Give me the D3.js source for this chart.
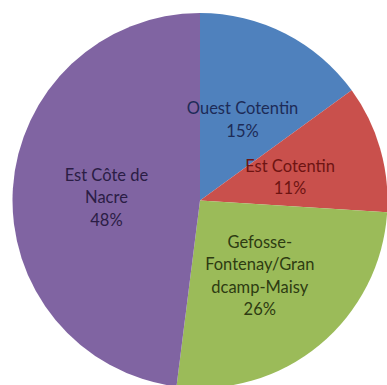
<!DOCTYPE html>
<html>
<head>
<meta charset="utf-8">
<script src="https://cdn.jsdelivr.net/npm/d3@7"></script>
<style>
  html, body { margin: 0; padding: 0; background: #fff; overflow: hidden; }
  svg { display: block; }
</style>
</head>
<body>
<svg id="chart" width="387" height="385"></svg>
<script>
// Share of each sector (%)
const categories = ["Ouest Cotentin", "Est Cotentin", "Gefosse-Fontenay/Grandcamp-Maisy", "Est Côte de Nacre"];
const values = [15, 11, 26, 48];
// Wrapped label lines as drawn inside each slice
const labelLines = [
  ["Ouest Cotentin"],
  ["Est Cotentin"],
  ["Gefosse-", "Fontenay/Gran", "dcamp-Maisy"],
  ["Est Côte de", "Nacre"]
];
const fills = ["#4F81BD", "#C9504C", "#9BBB59", "#8064A2"];
const textColors = ["#1d2b57", "#6e1412", "#2e3b12", "#2b1d45"];

const svg = d3.select("#chart");
const cx = 200, cy = 200.5, radius = 187.5;

const data = categories.map((c, i) => ({ name: c, value: values[i], lines: labelLines[i], i }));

const pie = d3.pie().value(d => d.value).sort(null);
const arc = d3.arc().innerRadius(0).outerRadius(radius);

const g = svg.append("g").attr("transform", `translate(${cx},${cy})`);
const arcs = pie(data);

g.selectAll("path.slice")
  .data(arcs)
  .join("path")
  .attr("class", "slice")
  .attr("d", arc)
  .attr("fill", d => fills[d.data.i]);

const lineH = 22.5;
const labels = g.selectAll("text.lbl")
  .data(arcs)
  .join("text")
  .attr("class", "lbl")
  .attr("text-anchor", "middle")
  .attr("font-family", "Lato, 'Open Sans', sans-serif")
  .attr("font-size", 16.5)
  .attr("fill", d => textColors[d.data.i])
  .attr("transform", d => {
    const [x, y] = arc.centroid(d);
    return `translate(${x},${y + 3})`;
  });

labels.each(function(d) {
  const lines = d.data.lines.concat([d3.format(".0f")(d.data.value) + "%"]);
  const t = d3.select(this);
  const y0 = -(lines.length - 1) * lineH / 2;
  lines.forEach((ln, k) => {
    t.append("tspan")
      .attr("x", 0)
      .attr("y", y0 + k * lineH)
      .attr("dy", "0.35em")
      .text(ln);
  });
});
</script>
</body>
</html>
